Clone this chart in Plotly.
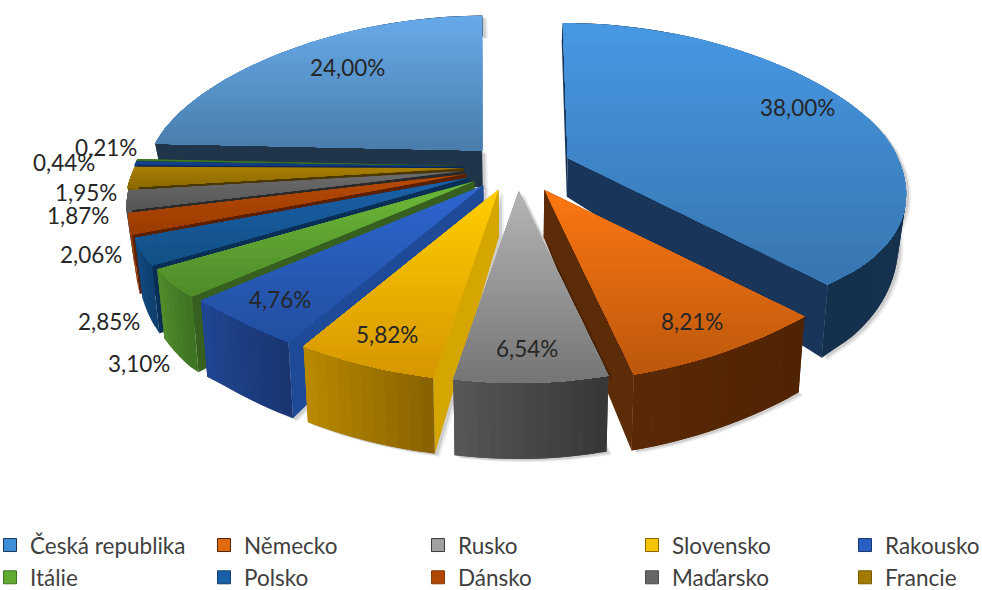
import math
import plotly.graph_objects as go

# ---- data ----
categories = ["Česká republika", "Německo", "Rusko", "Slovensko", "Rakousko", "Itálie",
              "Polsko", "Dánsko", "Maďarsko", "Francie", "", " ", "  "]
values = [38.00, 8.21, 6.54, 5.82, 4.76, 3.10, 2.85, 2.06, 1.87, 1.95, 0.44, 0.21, 24.00]
value_labels = ["38,00%", "8,21%", "6,54%", "5,82%", "4,76%", "3,10%", "2,85%", "2,06%",
                "1,87%", "1,95%", "0,44%", "0,21%", "24,00%"]

# ---- styles: (top face start, top face end, cut face, rim start, rim end) ----
top_from = ["#4797e2", "#fb7612", "#b4b4b4", "#ffcd00", "#2d65cf", "#6cb838", "#1a60a8",
            "#b54a06", "#6c6c6c", "#a87e02", "#14418f", "#3f7d24", "#66a9e8"]
top_to = ["#3776b0", "#bd580c", "#767676", "#d69800", "#224fa0", "#4f8c2a", "#125086",
          "#9c3c00", "#565656", "#8d6a00", "#123a80", "#36691f", "#4a7dac"]
cut_col = ["#19365a", "#5c2b08", "#4a4a4a", "#d5a600", "#1f4a98", "#375f1f", "#0a2f57",
           "#5a2000", "#2a2a2a", "#4a3800", "#0b2757", "#234a12", "#20344a"]
rim_from = ["#183654", "#502303", "#383838", "#8a6300", "#193572", "#3f7423", "#0e4070",
            "#8a3804", "#4a4a4a", "#7a5a00", "#123a80", "#36691f", "#20344a"]
rim_to = ["#15304c", "#5a2804", "#565656", "#b88800", "#1f4590", "#4f8a2b", "#104a80",
          "#a84405", "#5c5c5c", "#8a6700", "#123a80", "#36691f", "#20344a"]
legend_col = ["#3f8fd8", "#e06a10", "#a0a0a0", "#f5c400", "#2a5fc4", "#62ab33", "#1a60a8",
              "#b04606", "#666666", "#a27a02"]

draw_order = [12, 0, 11, 10, 9, 8, 7, 6, 5, 4, 3, 1, 2]
pull_factor = [1.03, 1.08, 1, 1, 1, 1, 1, 1, 1, 1, 1, 1, 0.95]

# label anchor centres on the page
label_x = [797, 692, 527, 387, 280, 139, 109, 91, 78, 86, 64, 106, 347]
label_y = [107, 321, 348, 334, 299, 363, 321, 254, 215, 192, 162, 147, 67]

# ---- projection of the exploded 3D pie ----
CX, CY = 517, 167
PULL_X, PULL_Y = 53, 24
RX, RY_BACK = 330, 135


def hex_rgb(h):
    return tuple(int(h[i:i + 2], 16) for i in (1, 3, 5))


def mix(a, b, t):
    ra, rb = hex_rgb(a), hex_rgb(b)
    return "rgb(%d,%d,%d)" % tuple(round(ra[i] + (rb[i] - ra[i]) * t) for i in range(3))


def rim_point(theta, ax):
    u, v = math.sin(theta), -math.cos(theta)
    if v > 0:
        rx = RX + 50 * min(1, v / 0.65)
        ry = 172 + 20 * max(0, (v - 0.7) / 0.3)
        lean = 0
    else:
        rx = RX * (1 + 0.15 * v)
        ry = RY_BACK
        lean = (CX - ax) * 0.1 * (-v)
    return rx * u + lean, ry * v


def depth(y):
    return max(20, min(76, 38 + (y - 155) * 0.27))


def down(p):
    return (p[0] - 0.02 * (p[0] - CX), p[1] + depth(p[1]))


def clip_below(poly, y0):
    out = []
    for i, a in enumerate(poly):
        b = poly[(i + 1) % len(poly)]
        ina, inb = a[1] >= y0, b[1] >= y0
        if ina:
            out.append(a)
        if ina != inb:
            t = (y0 - a[1]) / (b[1] - a[1])
            out.append((a[0] + (b[0] - a[0]) * t, y0))
    return out


fig = go.Figure()


def add_poly(poly, color):
    fig.add_trace(go.Scatter(
        x=[p[0] for p in poly] + [poly[0][0]],
        y=[p[1] for p in poly] + [poly[0][1]],
        mode="lines", fill="toself", fillcolor=color,
        line=dict(width=0, color=color), hoverinfo="skip", showlegend=False))


total = 100.0
start = [sum(values[:i]) / total * 2 * math.pi for i in range(len(values))]

for i in draw_order:
    t0 = start[i]
    t1 = t0 + values[i] / total * 2 * math.pi
    mid = (t0 + t1) / 2
    ax = CX + PULL_X * pull_factor[i] * math.sin(mid)
    ay = CY - PULL_Y * pull_factor[i] * math.cos(mid)
    apex = (ax, ay)
    n = max(4, int(values[i] * 2))
    arc = []
    for k in range(n + 1):
        dx, dy = rim_point(t0 + (t1 - t0) * k / n, ax)
        arc.append((ax + dx, ay + dy))

    # soft shadow behind the larger slices
    if values[i] > 4:
        sil = [apex] + arc + [down(p) for p in reversed(arc)] + [down(apex)]
        for off, alpha in ((5, 0.08), (3, 0.12)):
            add_poly([(p[0] + off, p[1] + off * 0.6) for p in sil], "rgba(0,0,0,%g)" % alpha)

    # cut faces
    add_poly([arc[0], apex, down(apex), down(arc[0])], cut_col[i])
    add_poly([arc[-1], apex, down(apex), down(arc[-1])], cut_col[i])

    # outer rim, painted along the arc with a shade drift
    for k in range(n):
        e = min(n, k + 2)
        seg = arc[k:e + 1]
        add_poly(seg + [down(p) for p in reversed(seg)],
                 mix(rim_from[i], rim_to[i], k / max(1, n - 1)))

    # top face with a vertical gradient painted in overlapping bands
    poly = [apex] + arc
    ys = [p[1] for p in poly]
    y_min, y_max = min(ys), max(ys)
    bands = 26 if values[i] > 4 else (12 if values[i] > 1.5 else 3)
    for b in range(bands):
        y0 = y_min + (y_max - y_min) * b / bands
        part = clip_below(poly, y0)
        if len(part) >= 3:
            add_poly(part, mix(top_from[i], top_to[i], b / max(1, bands - 1)))

# legend entries: one legend per column, two rows each
for i, name in enumerate(categories):
    if name.strip():
        col = i % 5
        fig.add_trace(go.Scatter(
            x=[-500], y=[-500], mode="markers", name=name,
            legend="legend" if col == 0 else "legend%d" % (col + 1),
            marker=dict(symbol="square", size=13, color=legend_col[i],
                        line=dict(width=1, color=rim_from[i])),
            hoverinfo="skip", showlegend=True))

# data labels
for i, text in enumerate(value_labels):
    fig.add_annotation(x=label_x[i], y=label_y[i], text=text, showarrow=False,
                       xref="x", yref="y", xanchor="center", yanchor="middle",
                       font=dict(family="Lato", size=22.5, color="#262626"))

legend_style = dict(orientation="v", xanchor="left", y=0.112, yanchor="top",
                    itemwidth=30, traceorder="normal", bgcolor="rgba(0,0,0,0)",
                    font=dict(family="Lato", size=22.5, color="#404040"))

fig.update_layout(
    width=982, height=590,
    margin=dict(l=0, r=0, t=0, b=0, autoexpand=False),
    paper_bgcolor="white", plot_bgcolor="white",
    font=dict(family="Lato", size=22.5, color="#404040"),
    xaxis=dict(range=[0, 982], visible=False, fixedrange=True),
    yaxis=dict(range=[590, 0], visible=False, fixedrange=True),
    legend=dict(x=-10 / 982, **legend_style),
    legend2=dict(x=204 / 982, **legend_style),
    legend3=dict(x=418 / 982, **legend_style),
    legend4=dict(x=632 / 982, **legend_style),
    legend5=dict(x=845 / 982, **legend_style),
    showlegend=True,
)

fig.write_html("out.html", config={"displayModeBar": False},
               post_script="document.body.style.margin='0';")
